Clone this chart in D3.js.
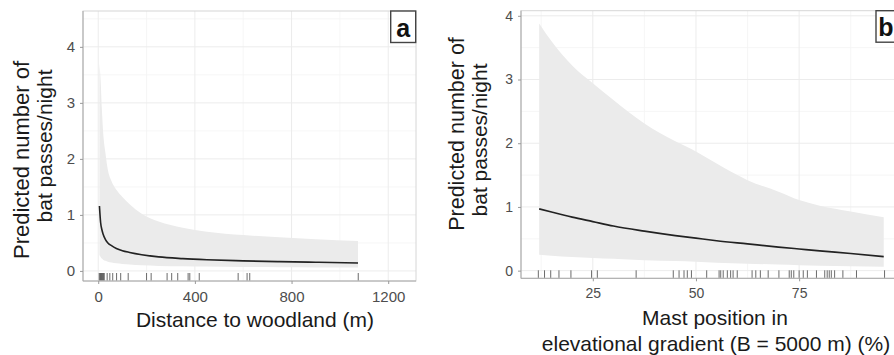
<!DOCTYPE html>
<html>
<head>
<meta charset="utf-8">
<script src="https://cdn.jsdelivr.net/npm/d3@7"></script>
<style>
  body { margin: 0; background: #fff; }
  svg { display: block; font-family: "Liberation Sans", Arial, sans-serif; }
</style>
</head>
<body>
<div id="chart"></div>
<script>
// panel a: distance to woodland (m)
const distA  = [5, 10, 15, 20, 30, 40, 55, 75, 100, 130, 180, 250, 350, 450, 600, 750, 900, 1075];
const fitA   = [1.16, 0.86, 0.74, 0.66, 0.56, 0.50, 0.45, 0.40, 0.36, 0.33, 0.29, 0.25, 0.22, 0.20, 0.18, 0.165, 0.155, 0.14];
const upperA = [3.70, 3.40, 2.90, 2.50, 2.10, 1.80, 1.60, 1.45, 1.32, 1.19, 1.02, 0.88, 0.77, 0.70, 0.64, 0.60, 0.565, 0.535];
const lowerA = [0.28, 0.25, 0.22, 0.20, 0.18, 0.165, 0.15, 0.135, 0.125, 0.115, 0.10, 0.09, 0.085, 0.08, 0.07, 0.065, 0.062, 0.06];
const rugA   = [4, 7, 9, 11, 13, 15, 17, 19, 22, 25, 37, 48, 60, 76, 93, 124, 200, 219, 285, 304, 329, 372, 379, 418, 579, 616, 627, 1076];
const xTicksA = [0, 400, 800, 1200];
const yTicksA = [0, 1, 2, 3, 4];

// panel b: mast position in elevational gradient (%)
const posB   = [12, 15, 20, 25, 30, 37.5, 45, 50, 55, 62.5, 70, 75, 80, 87.5, 95.5];
const fitB   = [0.97, 0.92, 0.84, 0.77, 0.70, 0.62, 0.55, 0.51, 0.47, 0.42, 0.37, 0.34, 0.31, 0.27, 0.22];
const upperB = [3.88, 3.60, 3.22, 2.94, 2.68, 2.31, 2.03, 1.87, 1.68, 1.42, 1.24, 1.11, 1.02, 0.93, 0.84];
const lowerB = [0.25, 0.235, 0.215, 0.20, 0.185, 0.165, 0.15, 0.14, 0.125, 0.11, 0.095, 0.085, 0.078, 0.07, 0.062];
const rugB   = [11.8, 13.3, 14.8, 16.8, 19.7, 24.7, 26.1, 35.5, 44.5, 45.9, 47.1, 47.9, 48.9, 52.6, 55.6, 56.0, 56.6,
                57.6, 58.4, 59.0, 60.0, 63.6, 64.5, 65.6, 67.5, 70.1, 72.6, 73.1, 73.7, 75.0, 76.0, 77.0, 79.2, 81.2,
                81.8, 82.3, 82.8, 83.6, 85.6, 88.9, 95.7];
const xTicksB = [25, 50, 75];
const yTicksB = [0, 1, 2, 3, 4];

const width = 894, height = 355;

const svg = d3.select("#chart").append("svg")
  .attr("width", width)
  .attr("height", height);

function drawPanel(cfg) {
  const x = d3.scaleLinear().domain(cfg.xDomain).range(cfg.xRange);
  const y = d3.scaleLinear().domain(cfg.yDomain).range(cfg.yRange);
  const [x0, x1] = cfg.xRange;
  const [y1, y0] = cfg.yRange;

  const g = svg.append("g");

  // clip, panel b runs off the right edge
  const clipId = "clip-" + cfg.label;
  g.append("clipPath").attr("id", clipId)
    .append("rect").attr("x", x0).attr("y", y0).attr("width", x1 - x0).attr("height", y1 - y0);

  const body = g.append("g").attr("clip-path", `url(#${clipId})`);

  // minor + major grid
  body.selectAll(".gx-minor").data(cfg.xMinor).enter().append("line")
    .attr("x1", d => x(d)).attr("x2", d => x(d)).attr("y1", y0).attr("y2", y1)
    .attr("stroke", "#f4f4f4").attr("stroke-width", 0.8);
  body.selectAll(".gy-minor").data(cfg.yMinor).enter().append("line")
    .attr("x1", x0).attr("x2", x1).attr("y1", d => y(d)).attr("y2", d => y(d))
    .attr("stroke", "#f4f4f4").attr("stroke-width", 0.8);
  body.selectAll(".gx").data(cfg.xTicks).enter().append("line")
    .attr("x1", d => x(d)).attr("x2", d => x(d)).attr("y1", y0).attr("y2", y1)
    .attr("stroke", "#ececec").attr("stroke-width", 1);
  body.selectAll(".gy").data(cfg.yTicks).enter().append("line")
    .attr("x1", x0).attr("x2", x1).attr("y1", d => y(d)).attr("y2", d => y(d))
    .attr("stroke", "#ececec").attr("stroke-width", 1);

  const rows = cfg.xs.map((v, i) => ({ x: v, fit: cfg.fit[i], lo: cfg.lower[i], hi: cfg.upper[i] }));

  // confidence band
  body.append("path").datum(rows)
    .attr("fill", "#ebebeb")
    .attr("d", d3.area().curve(d3.curveMonotoneX)
      .x(d => x(d.x)).y0(d => y(d.lo)).y1(d => y(d.hi)));

  // fitted line
  body.append("path").datum(rows)
    .attr("fill", "none")
    .attr("stroke", "#222")
    .attr("stroke-width", 1.6)
    .attr("d", d3.line().curve(d3.curveMonotoneX).x(d => x(d.x)).y(d => y(d.fit)));

  // rug
  body.selectAll(".rug").data(cfg.rug).enter().append("line")
    .attr("x1", d => x(d)).attr("x2", d => x(d))
    .attr("y1", y1).attr("y2", y1 - 8)
    .attr("stroke", "#5a5a5a").attr("stroke-width", 0.9);

  // panel border
  g.append("rect")
    .attr("x", x0).attr("y", y0).attr("width", x1 - x0).attr("height", y1 - y0)
    .attr("fill", "none").attr("stroke", "#d6d6d6").attr("stroke-width", 1);
  g.append("path")
    .attr("d", `M${x0},${y0}V${y1}H${x1}`)
    .attr("fill", "none").attr("stroke", "#a8a8a8").attr("stroke-width", 1);

  // axes
  const fmt = d3.format("d");
  const xAxis = g.append("g").attr("transform", `translate(0,${y1})`)
    .call(d3.axisBottom(x).tickValues(cfg.xTicks).tickFormat(fmt).tickSize(3).tickPadding(7));
  const yAxis = g.append("g").attr("transform", `translate(${x0},0)`)
    .call(d3.axisLeft(y).tickValues(cfg.yTicks).tickFormat(fmt).tickSize(3).tickPadding(5));
  [xAxis, yAxis].forEach(a => {
    a.select(".domain").remove();
    a.selectAll(".tick line").attr("stroke", "#999");
    a.selectAll(".tick text").attr("fill", "#4d4d4d")
      .style("font-size", cfg.tickSize)
      .style("font-family", '"Liberation Sans", Arial, sans-serif');
  });

  // y title, two lines
  cfg.yTitle.forEach(t => {
    g.append("text")
      .attr("transform", `translate(${t.x},${t.y}) rotate(-90)`)
      .attr("text-anchor", "middle")
      .attr("fill", "#1a1a1a")
      .style("font-size", t.size)
      .text(t.text);
  });

  // x title
  cfg.xTitle.forEach(t => {
    g.append("text")
      .attr("x", t.x).attr("y", t.y)
      .attr("text-anchor", "middle")
      .attr("fill", "#1a1a1a")
      .style("font-size", "21px")
      .text(t.text);
  });

  // panel tag box
  g.append("rect")
    .attr("x", cfg.tag.x).attr("y", y0).attr("width", 25).attr("height", 31.5)
    .attr("fill", "#fff").attr("stroke", "#444").attr("stroke-width", 1.4);
  g.append("text")
    .attr("x", cfg.tag.tx).attr("y", y0 + 25.5)
    .attr("text-anchor", "middle")
    .attr("fill", "#111")
    .style("font-size", "25px").style("font-weight", "bold")
    .text(cfg.label);
}

drawPanel({
  label: "a",
  xs: distA, fit: fitA, upper: upperA, lower: lowerA, rug: rugA,
  xDomain: [-63, 1315], xRange: [83, 416],
  yDomain: [-0.18, 4.64], yRange: [281, 11],
  xTicks: xTicksA, yTicks: yTicksA,
  xMinor: [200, 600, 1000], yMinor: [0.5, 1.5, 2.5, 3.5, 4.5],
  tickSize: "15px",
  yTitle: [
    { text: "Predicted number of", x: 28.5, y: 160, size: "22px" },
    { text: "bat passes/night", x: 52, y: 146, size: "21px" }
  ],
  xTitle: [{ text: "Distance to woodland (m)", x: 255, y: 327 }],
  tag: { x: 390.7, tx: 403.2 }
});

drawPanel({
  label: "b",
  xs: posB, fit: fitB, upper: upperB, lower: lowerB, rug: rugB,
  xDomain: [7.6, 99.2], xRange: [521, 899],
  yDomain: [-0.12, 4.08], yRange: [278.3, 10.7],
  xTicks: xTicksB, yTicks: yTicksB,
  xMinor: [12.5, 37.5, 62.5, 87.5], yMinor: [0.5, 1.5, 2.5, 3.5],
  tickSize: "14px",
  yTitle: [
    { text: "Predicted number of", x: 463.5, y: 134, size: "21.5px" },
    { text: "bat passes/night", x: 487, y: 140, size: "21px" }
  ],
  xTitle: [
    { text: "Mast position in", x: 715, y: 325 },
    { text: "elevational gradient (B = 5000 m) (%)", x: 716, y: 351 }
  ],
  tag: { x: 876, tx: 886 }
});
</script>
</body>
</html>
